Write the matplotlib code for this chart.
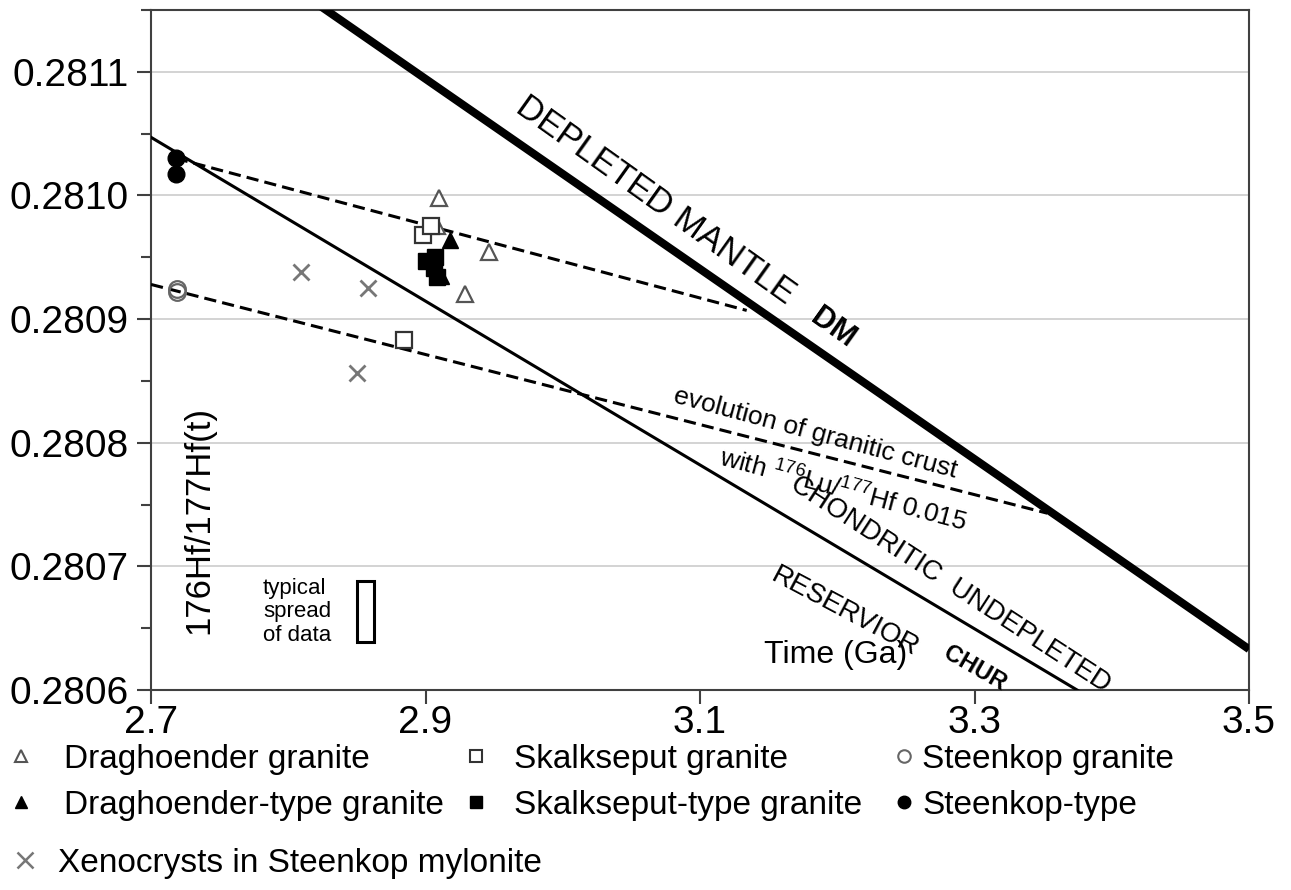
import matplotlib
matplotlib.use("Agg")
import matplotlib.pyplot as plt
from matplotlib.lines import Line2D
from matplotlib.patches import Rectangle
from matplotlib.ticker import MultipleLocator, FormatStrFormatter

plt.rcParams['font.family'] = ['Liberation Sans', 'DejaVu Sans']
plt.rcParams['mathtext.fontset'] = 'custom'
plt.rcParams['mathtext.rm'] = 'Liberation Sans'
plt.rcParams['mathtext.it'] = 'Liberation Sans:italic'
plt.rcParams['mathtext.bf'] = 'Liberation Sans:bold'

# reference evolution curves: time (Ga) vs 176Hf/177Hf
dm_t = [2.7, 3.5]
dm_hf = [0.281248, 0.280633]
chur_t = [2.7, 3.5]
chur_hf = [0.281047, 0.280517]

# granitic crust evolution lines (176Lu/177Hf = 0.015)
crust1_t = [2.718, 3.134]
crust1_hf = [0.281030, 0.280907]
crust2_t = [2.7, 3.353]
crust2_hf = [0.280928, 0.280743]

# samples
dr_t = [2.910, 2.908, 2.946, 2.929]          # Draghoender granite
dr_hf = [0.280998, 0.280975, 0.280954, 0.280920]
drt_t = [2.918, 2.911]                        # Draghoender-type granite
drt_hf = [0.280964, 0.280935]
sk_t = [2.898, 2.904, 2.884]                  # Skalkseput granite
sk_hf = [0.280968, 0.280975, 0.280883]
skt_t = [2.900, 2.907, 2.908, 2.906]          # Skalkseput-type granite
skt_hf = [0.280947, 0.280950, 0.280934, 0.280941]
st_t = [2.719, 2.719]                         # Steenkop granite
st_hf = [0.280924, 0.280922]
stt_t = [2.718, 2.718]                        # Steenkop-type
stt_hf = [0.281030, 0.281017]
xen_t = [2.809, 2.858, 2.850]                 # xenocrysts
xen_hf = [0.280938, 0.280925, 0.280856]

# typical spread box
spread_t = [2.8504, 2.8626]
spread_hf = [0.280639, 0.280688]

x_ticks = [2.7, 2.9, 3.1, 3.3, 3.5]

fig = plt.figure(figsize=(12.91, 8.90), dpi=100)
ax = fig.add_axes([0.117, 0.2247, 0.8505, 0.7641])

ax.set_xlim(2.7, 3.5)
ax.set_ylim(0.2806, 0.28115)

ax.plot(dm_t, dm_hf, color='black', lw=5.8, solid_capstyle='butt', zorder=3)
ax.plot(chur_t, chur_hf, color='black', lw=2.2, zorder=3)
ax.plot(crust1_t, crust1_hf, color='black', lw=2.2, dashes=(4, 2), zorder=3)
ax.plot(crust2_t, crust2_hf, color='black', lw=2.2, dashes=(4, 2), zorder=3)

ms = 12
ax.plot(dr_t, dr_hf, ls='none', marker='^', ms=ms, mfc='white', mec='#555555', mew=1.6, zorder=4)
ax.plot(drt_t, drt_hf, ls='none', marker='^', ms=ms, mfc='black', mec='black', zorder=4)
ax.plot(sk_t, sk_hf, ls='none', marker='s', ms=ms, mfc='white', mec='#333333', mew=1.6, zorder=5)
ax.plot(skt_t, skt_hf, ls='none', marker='s', ms=ms, mfc='black', mec='black', zorder=5)
ax.plot(st_t, st_hf, ls='none', marker='o', ms=ms, mfc='none', mec='#666666', mew=1.6, zorder=5)
ax.plot(stt_t, stt_hf, ls='none', marker='o', ms=ms, mfc='black', mec='black', zorder=5)
ax.plot(xen_t, xen_hf, ls='none', marker='x', ms=ms, mec='#777777', mew=2, zorder=5)

ax.add_patch(Rectangle((spread_t[0], spread_hf[0]), spread_t[1] - spread_t[0],
                       spread_hf[1] - spread_hf[0], fill=False, ec='black', lw=2.2, zorder=4))

# axes styling
ax.set_xticks(x_ticks)
ax.xaxis.set_major_formatter(FormatStrFormatter('%.1f'))
ax.yaxis.set_major_locator(MultipleLocator(0.0001))
ax.yaxis.set_minor_locator(MultipleLocator(0.00005))
ax.yaxis.set_major_formatter(FormatStrFormatter('%.4f'))
ax.tick_params(axis='both', which='major', labelsize=28, length=10, width=1.5, color='#404040')
ax.tick_params(axis='y', which='minor', length=7, width=1.5, color='#404040')
ax.tick_params(axis='x', pad=1)
ax.tick_params(axis='y', pad=6)
ax.grid(axis='y', which='major', color='#d0d0d0', lw=1.3)
ax.set_axisbelow(True)
for sp in ax.spines.values():
    sp.set_color('#404040')
    sp.set_linewidth(1.5)

# annotations
ax.text(3.0672, 0.2809964, 'DEPLETED MANTLE', fontsize=25, rotation=-35.5,
        ha='center', va='center', rotation_mode='anchor')
ax.text(3.1969, 0.2808929, 'DM', fontsize=22, fontweight='bold', rotation=-35.5,
        ha='center', va='center', rotation_mode='anchor')
ax.text(3.2822, 0.2806850, 'CHONDRITIC  UNDEPLETED', fontsize=20, rotation=-33,
        ha='center', va='center', rotation_mode='anchor')
ax.text(3.2057, 0.2806631, 'RESERVIOR', fontsize=20, rotation=-28,
        ha='center', va='center', rotation_mode='anchor')
ax.text(3.3004, 0.2806178, 'CHUR', fontsize=17, fontweight='bold', rotation=-30,
        ha='center', va='center', rotation_mode='anchor')
ax.text(3.1838, 0.2808079, 'evolution of granitic crust', fontsize=19, rotation=-15,
        ha='center', va='center', rotation_mode='anchor')
ax.text(3.2042, 0.2807618, r'with $^{176}$Lu/$^{177}$Hf 0.015', fontsize=19, rotation=-15,
        ha='center', va='center', rotation_mode='anchor')
ax.text(3.1991, 0.2806283, 'Time (Ga)', fontsize=23, ha='center', va='center')
ax.text(2.7350, 0.2807375, '176Hf/177Hf(t)', fontsize=25, rotation=90,
        ha='center', va='center')
ax.text(2.7816, 0.2806631, 'typical\nspread\nof data', fontsize=16,
        ha='left', va='center', linespacing=1.15)


# legend, laid out column by column like the original
def add_legend(handles, labels, x, y, pad):
    fig.legend(handles, labels, loc='upper left', bbox_to_anchor=(x, y),
               bbox_transform=fig.transFigure, frameon=False, fontsize=24,
               borderpad=0, borderaxespad=0, handlelength=1.0,
               handletextpad=pad, labelspacing=0.45)


h_dr = Line2D([], [], ls='none', marker='^', ms=9, mfc='white', mec='#555555', mew=1.5)
h_drt = Line2D([], [], ls='none', marker='^', ms=9, mfc='black', mec='black')
h_sk = Line2D([], [], ls='none', marker='s', ms=9, mfc='white', mec='#333333', mew=1.5)
h_skt = Line2D([], [], ls='none', marker='s', ms=9, mfc='black', mec='black')
h_st = Line2D([], [], ls='none', marker='o', ms=9, mfc='white', mec='#666666', mew=1.5)
h_stt = Line2D([], [], ls='none', marker='o', ms=9, mfc='black', mec='black')
h_xen = Line2D([], [], ls='none', marker='x', ms=11, mec='#777777', mew=1.8)

add_legend([h_dr, h_drt], ['Draghoender granite', 'Draghoender-type granite'],
           4 / 1291, 1 - 744 / 890, 0.8)
add_legend([h_sk, h_skt], ['Skalkseput granite', 'Skalkseput-type granite'],
           459.3 / 1291, 1 - 744 / 890, 0.64)
add_legend([h_st, h_stt], ['Steenkop granite', 'Steenkop-type'],
           887.3 / 1291, 1 - 744 / 890, 0.05)
add_legend([h_xen], ['Xenocrysts in Steenkop mylonite'],
           8.3 / 1291, 1 - 848 / 890, 0.49)

fig.savefig('out.png', dpi=100)
